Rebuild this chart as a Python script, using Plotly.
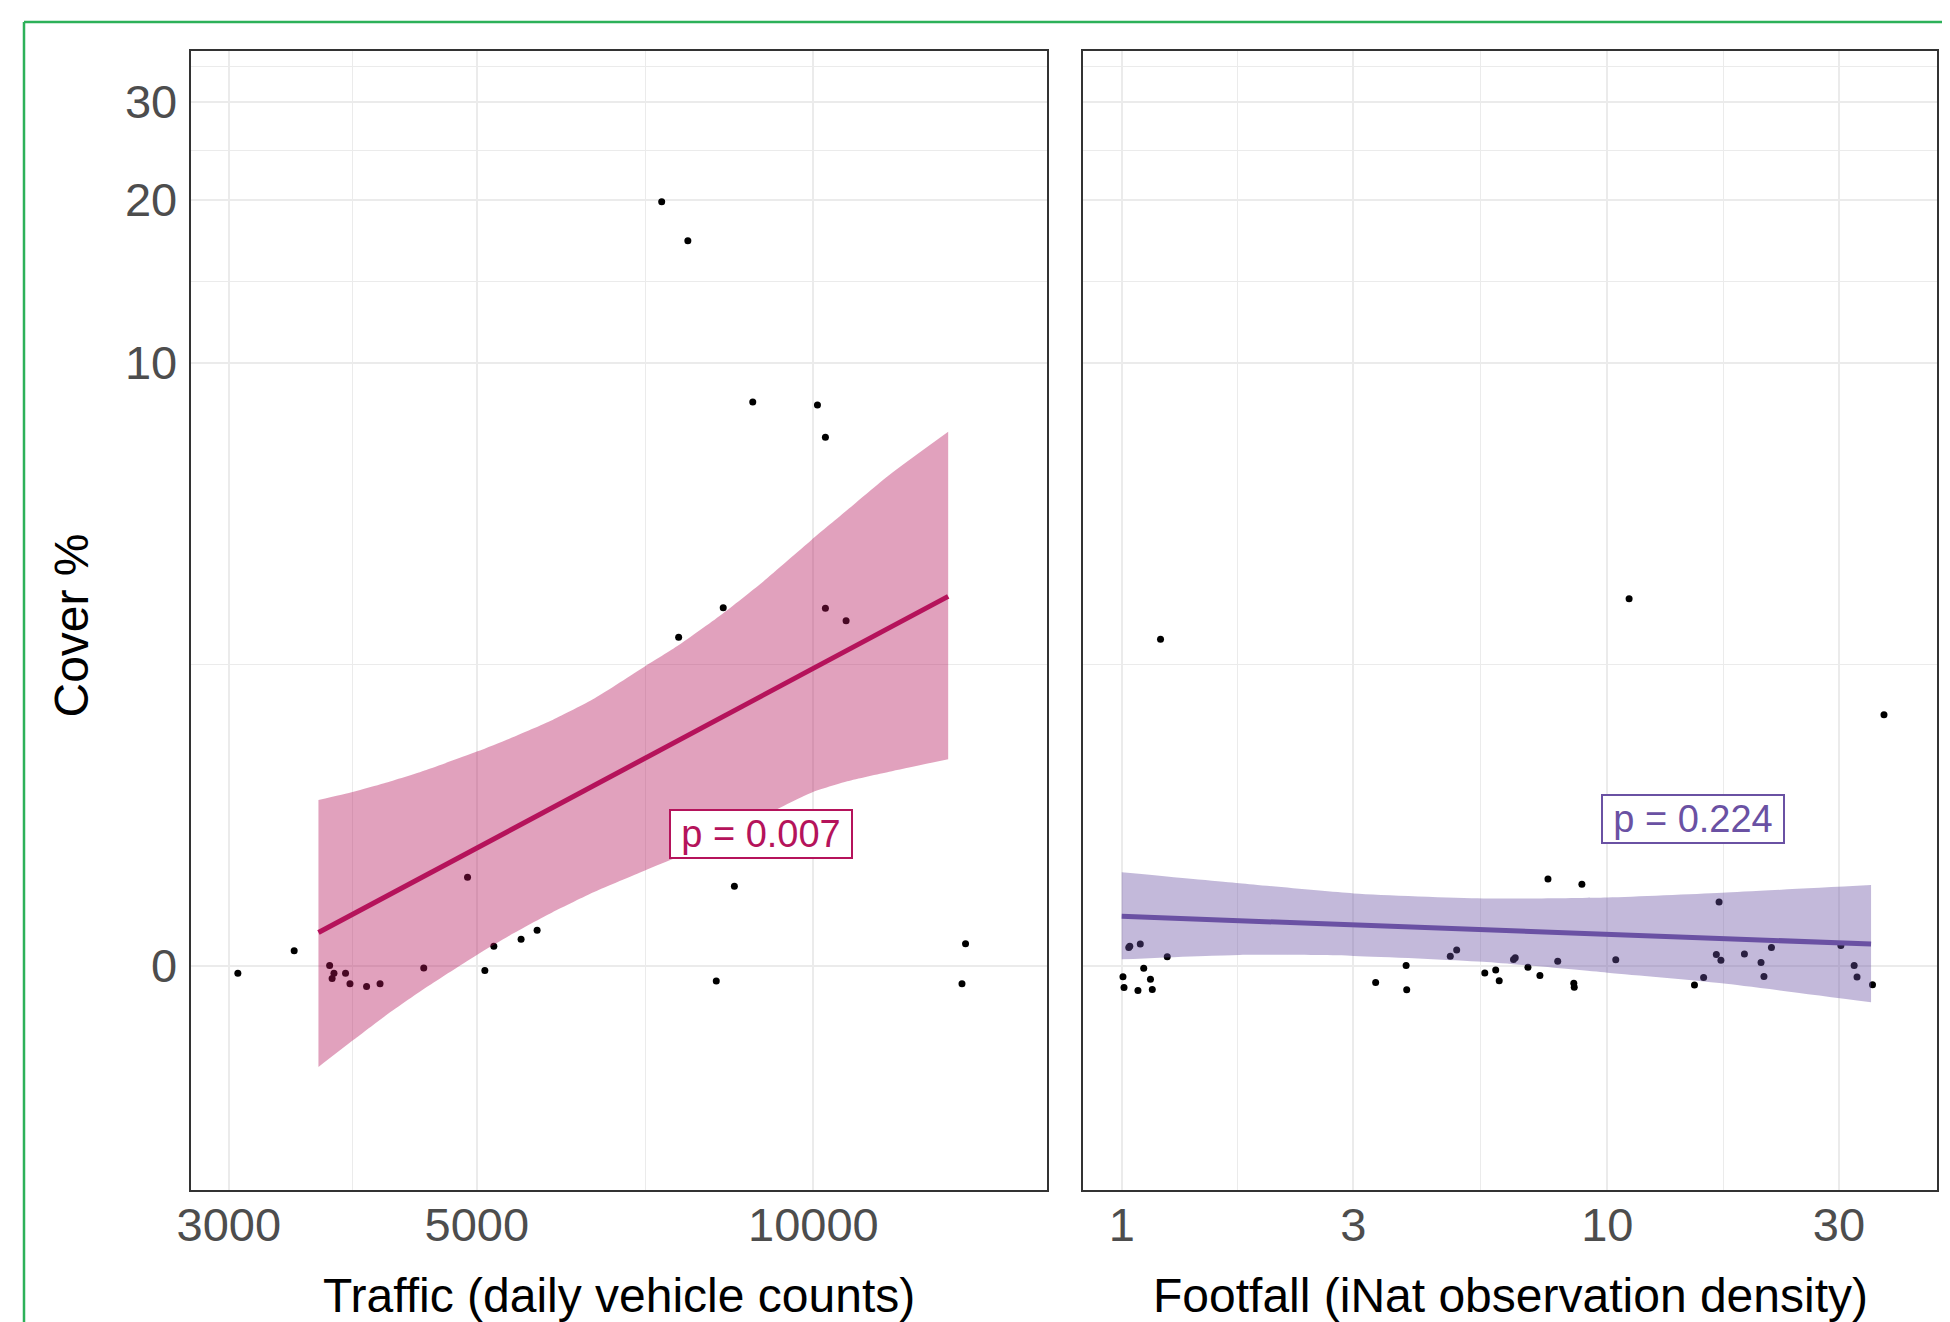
import numpy as np
import plotly.graph_objects as go

# ---------------- data ----------------
# Left panel: traffic (daily vehicle counts) vs cover %
traffic_x = [7317, 7722, 8827, 10085, 10252, 7577, 8306, 10252, 10698, 4905,
             8499, 3692, 3725, 3711, 3815, 3850, 3984, 4096, 4482, 5083,
             5178, 5477, 5661, 8188, 13683, 13583, 3056, 3432]
traffic_cover = [19.84, 16.86, 8.40, 8.29, 7.17, 2.69, 3.15, 3.14, 2.94, 0.42,
                 0.37, 0.00, -0.03, -0.05, -0.03, -0.07, -0.08, -0.07, -0.01, -0.02,
                 0.08, 0.11, 0.15, -0.06, 0.09, -0.07, -0.03, 0.06]

traffic_fit_x = [3608, 13202]
traffic_fit_cover = [0.14, 3.34]
traffic_band_x = [3608, 3879, 4131, 4506, 5000, 5358, 5844, 6374,
                  7061, 7580, 8266, 9016, 9961, 10723, 11693, 13202]
traffic_band_hi = [0.931, 0.996, 1.064, 1.176, 1.341, 1.469, 1.655, 1.894,
                   2.281, 2.577, 3.031, 3.602, 4.432, 5.118, 6.034, 7.353]
traffic_band_lo = [-0.332, -0.256, -0.184, -0.083, 0.043, 0.129, 0.236, 0.341,
                   0.458, 0.542, 0.667, 0.811, 0.988, 1.080, 1.161, 1.271]
traffic_p_text = "p = 0.007"
traffic_p_pos = (8980, 0.69)

# Right panel: footfall (iNat observation density) vs cover %
footfall_x = [1.006, 1.011, 1.034, 1.039, 1.092, 1.080, 1.110, 1.146, 1.156, 1.241,
              3.334, 3.852, 3.863, 4.750, 4.896, 5.594, 5.891, 5.990, 6.410, 6.463,
              6.864, 7.265, 7.548, 7.905, 8.531, 8.550, 8.865, 10.41, 15.12, 15.79,
              16.77, 16.99, 17.14, 19.16, 20.73, 21.02, 21.78, 30.27, 32.24, 32.68,
              35.17, 1.202, 11.09, 37.14]
footfall_cover = [-0.044, -0.084, 0.074, 0.080, 0.089, -0.095, -0.011, -0.053, -0.091, 0.035,
                  -0.065, 0.000, -0.092, 0.038, 0.064, -0.029, -0.018, -0.059, 0.024, 0.031,
                  -0.007, -0.039, 0.410, 0.017, -0.068, -0.083, 0.381, 0.023, -0.075, -0.047,
                  0.045, 0.287, 0.021, 0.047, 0.012, -0.043, 0.074, 0.083, 0.000, -0.045,
                  -0.074, 2.66, 3.30, 1.71]

footfall_fit_x = [1.0, 34.93]
footfall_fit_cover = [0.216, 0.089]
footfall_band_x = [1.0, 1.747, 3.005, 5.549, 10.01, 17.22, 34.93]
footfall_band_hi = [0.449, 0.387, 0.332, 0.306, 0.311, 0.336, 0.377]
footfall_band_lo = [0.025, 0.043, 0.039, 0.015, -0.028, -0.068, -0.136]
footfall_p_text = "p = 0.224"
footfall_p_pos = (14.98, 0.79)

# axis ticks
traffic_ticks = [3000, 5000, 10000]
traffic_ticklabels = ["3000", "5000", "10000"]
footfall_ticks = [1, 3, 10, 30]
footfall_ticklabels = ["1", "3", "10", "30"]
cover_ticks = [0, 10, 20, 30]
cover_ticklabels = ["0", "10", "20", "30"]

# ---------------- styling ----------------
W, H = 1950, 1322
OFF = 8  # page margin of the html body around the figure
FONT = "Liberation Sans, Arial, Helvetica, sans-serif"
PINK = "#B5135B"
PINK_FILL = "rgba(181,19,91,0.40)"
PURPLE = "#6A51A3"
PURPLE_FILL = "rgba(106,81,163,0.40)"
GRID = "#EBEBEB"
BORDER = "#333333"
GREEN = "#2DB159"


def fxp(px):
    """page pixel x -> paper fraction"""
    return (px - OFF) / W


def fyp(py):
    """page pixel y -> paper fraction"""
    return 1 - (py - OFF) / H


def p1(v):
    """cover % -> cover % + 1 (log1p-style axis)"""
    return (np.asarray(v, dtype=float) + 1.0).tolist()


def geo_mid(vals):
    return [float(np.sqrt(a * b)) for a, b in zip(vals[:-1], vals[1:])]


fig = go.Figure()

panels = [
    dict(xa="x", ya="y", px=traffic_x, py=traffic_cover, bx=traffic_band_x,
         hi=traffic_band_hi, lo=traffic_band_lo, fx=traffic_fit_x, fy=traffic_fit_cover,
         col=PINK, fill=PINK_FILL),
    dict(xa="x2", ya="y2", px=footfall_x, py=footfall_cover, bx=footfall_band_x,
         hi=footfall_band_hi, lo=footfall_band_lo, fx=footfall_fit_x, fy=footfall_fit_cover,
         col=PURPLE, fill=PURPLE_FILL),
]

for p in panels:
    fig.add_trace(go.Scatter(
        x=p["px"], y=p1(p["py"]), mode="markers",
        marker=dict(color="black", size=7, line=dict(width=0)),
        xaxis=p["xa"], yaxis=p["ya"], showlegend=False, hoverinfo="skip"))
    # confidence band: lower edge, then upper edge filled down to it
    fig.add_trace(go.Scatter(
        x=p["bx"], y=p1(p["lo"]), mode="lines",
        line=dict(width=0, shape="spline", smoothing=0.6, color="rgba(0,0,0,0)"),
        xaxis=p["xa"], yaxis=p["ya"], showlegend=False, hoverinfo="skip"))
    fig.add_trace(go.Scatter(
        x=p["bx"], y=p1(p["hi"]), mode="lines", fill="tonexty", fillcolor=p["fill"],
        line=dict(width=0, shape="spline", smoothing=0.6, color="rgba(0,0,0,0)"),
        xaxis=p["xa"], yaxis=p["ya"], showlegend=False, hoverinfo="skip"))
    fig.add_trace(go.Scatter(
        x=p["fx"], y=p1(p["fy"]), mode="lines",
        line=dict(color=p["col"], width=5),
        xaxis=p["xa"], yaxis=p["ya"], showlegend=False, hoverinfo="skip"))

tickfont = dict(family=FONT, size=47, color="#4D4D4D")
common = dict(type="log", showgrid=True, gridcolor=GRID, gridwidth=2,
              showline=True, mirror=True, linecolor=BORDER, linewidth=1.5,
              ticks="", zeroline=False, tickfont=tickfont, tickmode="array",
              automargin=False)

y_dom = [fyp(1190), fyp(51)]
y_range = [-0.3877, 1.5794]
cover_vals = p1(cover_ticks)
y_minor = dict(tickmode="array", tickvals=geo_mid(cover_vals + [41]), showgrid=True,
               gridcolor=GRID, gridwidth=1, ticks="")

fig.update_layout(
    width=W, height=H,
    margin=dict(l=0, r=0, t=0, b=0, pad=0, autoexpand=False),
    paper_bgcolor="white", plot_bgcolor="white",
    showlegend=False,
    font=dict(family=FONT),
    xaxis=dict(domain=[fxp(191.4), fxp(1046.5)], range=[3.4436, 4.2086], anchor="y",
               tickvals=traffic_ticks, ticktext=traffic_ticklabels, ticklabelstandoff=-7,
               minor=dict(tickmode="array", tickvals=geo_mid(traffic_ticks), showgrid=True,
                          gridcolor=GRID, gridwidth=1, ticks=""),
               **common),
    yaxis=dict(domain=y_dom, range=y_range, anchor="x",
               tickvals=cover_vals, ticktext=cover_ticklabels, ticklabelstandoff=3,
               minor=y_minor, **common),
    xaxis2=dict(domain=[fxp(1083.3), fxp(1937)], range=[-0.0791, 1.679], anchor="y2",
                tickvals=footfall_ticks, ticktext=footfall_ticklabels, ticklabelstandoff=-7,
                minor=dict(tickmode="array", tickvals=geo_mid(footfall_ticks), showgrid=True,
                           gridcolor=GRID, gridwidth=1, ticks=""),
                **common),
    yaxis2=dict(domain=y_dom, range=y_range, anchor="x2",
                tickvals=cover_vals, ticktext=cover_ticklabels, showticklabels=False,
                minor=y_minor, **common),
)

annotations = []
# p-value labels
for (txt, pos, col, xr, yr) in [
    (traffic_p_text, traffic_p_pos, PINK, "x", "y"),
    (footfall_p_text, footfall_p_pos, PURPLE, "x2", "y2"),
]:
    annotations.append(dict(
        text=txt, x=float(np.log10(pos[0])), y=float(np.log10(pos[1] + 1)),
        xref=xr, yref=yr, showarrow=False, xanchor="center", yanchor="middle",
        font=dict(family=FONT, size=38, color=col),
        bgcolor="white", bordercolor=col, borderwidth=2, borderpad=2,
        width=176, height=42))

# axis titles
annotations.append(dict(text="Traffic (daily vehicle counts)", xref="paper", yref="paper",
                        x=fxp(618.9), y=fyp(1295), xanchor="center", yanchor="middle",
                        showarrow=False, font=dict(family=FONT, size=48, color="black")))
annotations.append(dict(text="Footfall (iNat observation density)", xref="paper", yref="paper",
                        x=fxp(1510), y=fyp(1295), xanchor="center", yanchor="middle",
                        showarrow=False, font=dict(family=FONT, size=48, color="black")))
annotations.append(dict(text="Cover %", xref="paper", yref="paper", textangle=-90,
                        x=fxp(70.5), y=fyp(625), xanchor="center", yanchor="middle",
                        showarrow=False, font=dict(family=FONT, size=48, color="black")))

fig.update_layout(annotations=annotations)

# green outer frame (top and left edges visible)
fig.update_layout(shapes=[
    dict(type="line", xref="paper", yref="paper", x0=fxp(24), x1=1.0,
         y0=fyp(22), y1=fyp(22), line=dict(color=GREEN, width=2.5)),
    dict(type="line", xref="paper", yref="paper", x0=fxp(24), x1=fxp(24),
         y0=fyp(22), y1=0, line=dict(color=GREEN, width=2.5)),
])

fig.write_html("out.html")
